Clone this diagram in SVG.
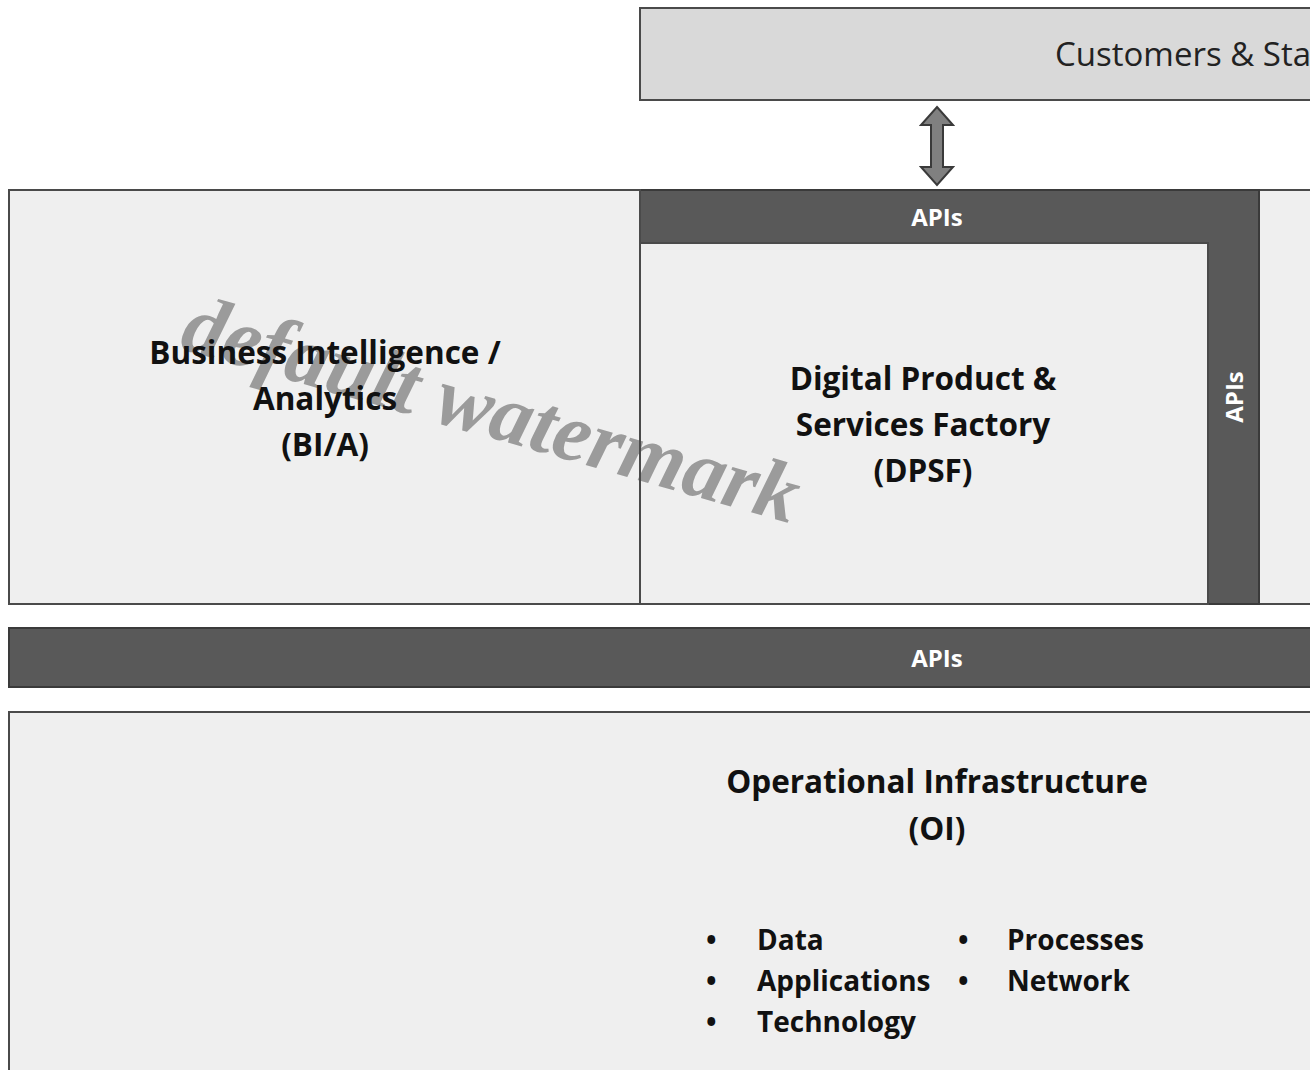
<svg xmlns="http://www.w3.org/2000/svg" width="1310" height="1070" viewBox="0 0 1310 1070">
<style>
.box{fill:#efefef;stroke:#4a4a4a;stroke-width:2}
.frame{fill:none;stroke:#4a4a4a;stroke-width:2}
.top{fill:#d9d9d9;stroke:#4a4a4a;stroke-width:2}
.dark{fill:#595959;stroke:#3a3a3a;stroke-width:2}
.lbl{font-family:"Open Sans","Liberation Sans",sans-serif;font-weight:bold;font-size:31.5px;fill:#111;text-anchor:middle}
.api{font-family:"Open Sans","Liberation Sans",sans-serif;font-weight:bold;font-size:24px;fill:#fff;text-anchor:middle}
.it{font-family:"Open Sans","Liberation Sans",sans-serif;font-weight:bold;font-size:28px;fill:#111}
.wm{font-family:"Liberation Serif",serif;font-weight:bold;font-style:italic;font-size:84px;fill:#8c8c8c;fill-opacity:0.85}
</style>
<rect width="1310" height="1070" fill="#fff"/>
<g id="customers">
<rect class="top" x="640" y="8" width="680" height="92"/>
<text x="1055" y="66" font-family="Open Sans,Liberation Sans,sans-serif" font-size="33" fill="#222">Customers &amp; Sta</text>
</g>
<g id="connectors">
<path d="M937,107 L953,125 L943,125 L943,167 L953,167 L937,185 L921,167 L931,167 L931,125 L921,125 Z" fill="#808080" stroke="#3a3a3a" stroke-width="2"/>
</g>
<g id="outer">
<rect class="box" x="9" y="190" width="1320" height="414"/>
</g>
<g id="apis-l">
<path class="dark" d="M640,190 L1259,190 L1259,604 L1208,604 L1208,243 L640,243 Z"/>
<text class="api" x="937" y="226">APIs</text>
<text class="api" transform="translate(1243,397) rotate(-90)" x="0" y="0">APIs</text>
</g>
<g id="dpsf">
<rect class="box" x="640" y="243" width="568" height="361"/>
<text class="lbl" x="923" y="390">Digital Product &amp;</text>
<text class="lbl" x="923" y="436">Services Factory</text>
<text class="lbl" x="923" y="482">(DPSF)</text>
</g>
<text class="wm" transform="translate(178,348) rotate(16)">default watermark</text>
<g id="bia">
<rect class="frame" x="9" y="190" width="631" height="414"/>
<text class="lbl" x="325" y="364">Business Intelligence /</text>
<text class="lbl" x="325" y="410">Analytics</text>
<text class="lbl" x="325" y="456">(BI/A)</text>
</g>
<g id="apis-bar">
<rect class="dark" x="9" y="628" width="1320" height="59"/>
<text class="api" x="937" y="667">APIs</text>
</g>
<g id="oi">
<rect class="box" x="9" y="712" width="1320" height="380"/>
<text class="lbl" x="937" y="793">Operational Infrastructure</text>
<text class="lbl" x="937" y="840">(OI)</text>
<g class="it">
<text x="706" y="950">•</text><text x="757" y="950">Data</text>
<text x="706" y="991">•</text><text x="757" y="991">Applications</text>
<text x="706" y="1032">•</text><text x="757" y="1032">Technology</text>
<text x="958" y="950">•</text><text x="1007" y="950">Processes</text>
<text x="958" y="991">•</text><text x="1007" y="991">Network</text>
</g>
</g>
</svg>
